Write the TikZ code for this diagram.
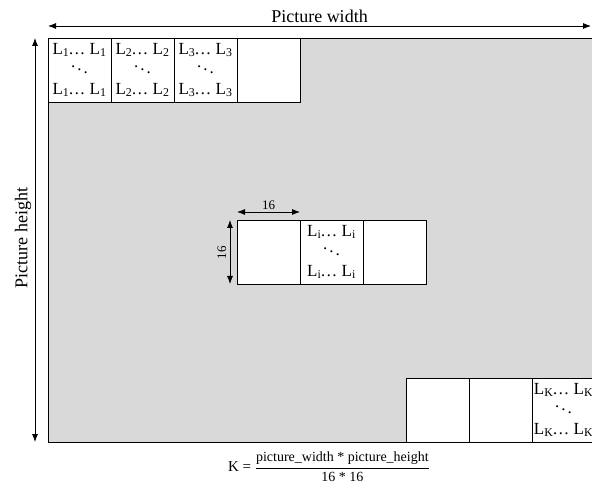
\documentclass[tikz,border=0pt]{standalone}
\usepackage{fontspec}
\setmainfont{Liberation Serif}
\usetikzlibrary{positioning,arrows.meta}
\tikzset{
  blk/.style={draw, fill=white, minimum width=63pt, minimum height=64pt, inner sep=0pt, outer sep=0pt, align=center, font=\fontsize{17}{19}\selectfont},
  big/.style={font=\fontsize{18}{21}\selectfont},
  small/.style={font=\fontsize{13}{15}\selectfont},
}
\newcommand{\Lrows}[1]{L\textsubscript{#1}\kern-1pt… L\textsubscript{#1}\\[1pt]$\ddots$\\[1pt]L\textsubscript{#1}\kern-1pt… L\textsubscript{#1}}
\begin{document}
\begin{tikzpicture}[x=1pt, y=-1pt, line width=0.8pt, >={Latex[length=8pt,width=6pt]}]
\useasboundingbox (0,0) rectangle (592,489);
\clip (0,0) rectangle (592,489);
% picture area
\path (48,38) coordinate (picnw)
      (591,38) coordinate (picne)
      (48,442) coordinate (picsw);
\draw[fill=black!15] (picnw) rectangle (640,442);
\draw[<->] ([yshift=12pt]picnw) -- node[above=0pt, big] {Picture width} ([yshift=12pt]picne);
\draw[<->] ([xshift=-13pt]picnw) -- node[above=2pt, rotate=90, big] {Picture height} ([xshift=-13pt]picsw);
% first blocks
\node[blk, anchor=north west] (t1) at (picnw) {\Lrows{1}};
\node[blk, right=0pt of t1] (t2) {\Lrows{2}};
\node[blk, right=0pt of t2] (t3) {\Lrows{3}};
\node[blk, right=0pt of t3] (t4) {};
% middle blocks
\node[blk, anchor=north west] (m1) at (237,220) {};
\node[blk, right=0pt of m1] (m2) {\Lrows{i}};
\node[blk, right=0pt of m2] (m3) {};
\draw[<->] ([yshift=8pt]m1.north west) -- node[above=-1pt, small] {16} ([yshift=8pt]m1.north east);
\draw[<->] ([xshift=-7pt]m1.north west) -- node[above=-1pt, rotate=90, small] {16} ([xshift=-7pt]m1.south west);
% last blocks
\node[blk, anchor=north west] (b1) at (406,378) {};
\node[blk, right=0pt of b1] (b2) {};
\node[blk, right=0pt of b2] (b3) {\Lrows{K}};
% number of blocks
\node[font=\fontsize{15}{17}\selectfont] (formula) at (329,467) {K = $\displaystyle\frac{\mbox{\fontsize{14}{16}\selectfont picture\_width * picture\_height}}{\mbox{\fontsize{14}{16}\selectfont 16 * 16}}$};
\end{tikzpicture}
\end{document}
